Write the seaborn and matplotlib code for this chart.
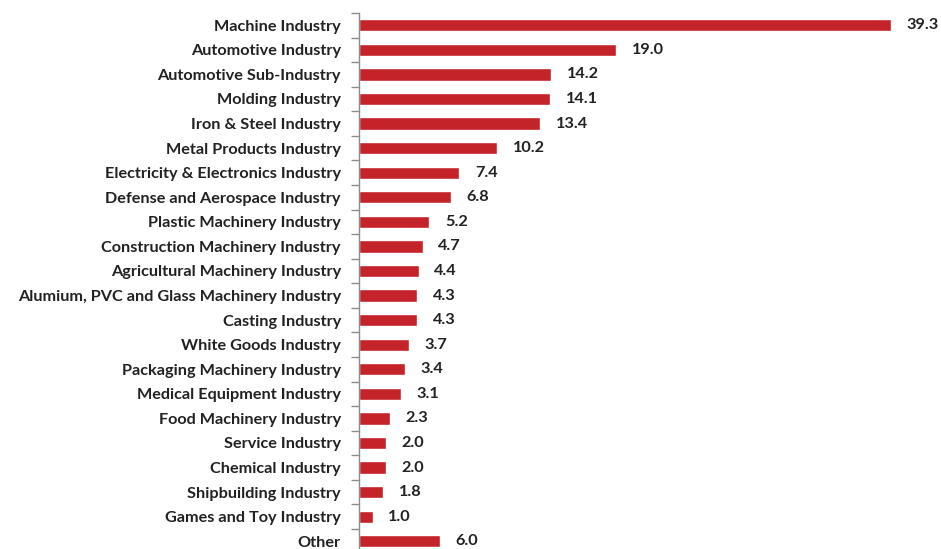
import matplotlib
matplotlib.use("Agg")
import matplotlib.pyplot as plt
import seaborn as sns
import pandas as pd
import numpy as np

# 業種とパーセント値
industries = [
    "Machine Industry",
    "Automotive Industry",
    "Automotive Sub-Industry",
    "Molding Industry",
    "Iron & Steel Industry",
    "Metal Products Industry",
    "Electricity & Electronics Industry",
    "Defense and Aerospace Industry",
    "Plastic Machinery Industry",
    "Construction Machinery Industry",
    "Agricultural Machinery Industry",
    "Alumium, PVC and Glass Machinery Industry",
    "Casting Industry",
    "White Goods Industry",
    "Packaging Machinery Industry",
    "Medical Equipment Industry",
    "Food Machinery Industry",
    "Service Industry",
    "Chemical Industry",
    "Shipbuilding Industry",
    "Games and Toy Industry",
    "Other",
]
values = [39.3, 19.0, 14.2, 14.1, 13.4, 10.2, 7.4, 6.8, 5.2, 4.7, 4.4,
          4.3, 4.3, 3.7, 3.4, 3.1, 2.3, 2.0, 2.0, 1.8, 1.0, 6.0]

df = pd.DataFrame({"industry": industries, "value": values})

sns.set_style("white")
plt.rcParams["font.family"] = ["Lato", "DejaVu Sans"]

W, H = 941, 549
fig = plt.figure(figsize=(W / 100, H / 100), dpi=100)
# 軸の位置（ピクセルから換算）
left, top = 359, 13
row = 24.57
n = len(industries)
ax_h = row * n
ax = fig.add_axes([left / W, 1 - (top + ax_h) / H, (W - left) / W, ax_h / H])

bar_color = "#C4232A"
sns.barplot(data=df, x="value", y="industry", orient="h", color=bar_color,
            width=0.5, saturation=1, ax=ax)

ax.set_xlim(0, (W - left) / 13.54)
ax.set_ylim(n - 0.5, -0.5)
ax.set_xlabel("")
ax.set_ylabel("")
ax.set_xticks([])

for s in ["top", "right", "bottom"]:
    ax.spines[s].set_visible(False)
ax.spines["left"].set_color("#8c8c8c")
ax.spines["left"].set_linewidth(1.0)

ax.set_yticks(np.arange(n))
ax.set_yticklabels(industries, fontsize=11.7, fontweight="bold", color="#222222")
ax.tick_params(axis="y", which="major", left=True, length=0, pad=13)
ax.set_yticks(np.arange(n + 1) - 0.5, minor=True)
ax.tick_params(axis="y", which="minor", left=True, length=6, width=1,
               color="#8c8c8c", direction="out")

# 値ラベル
for i, v in enumerate(values):
    ax.text(v + 1.15, i, f"{v:.1f}", va="center", ha="left", fontsize=11.7,
            fontweight="bold", color="#222222")

fig.savefig("out.png", dpi=100)
